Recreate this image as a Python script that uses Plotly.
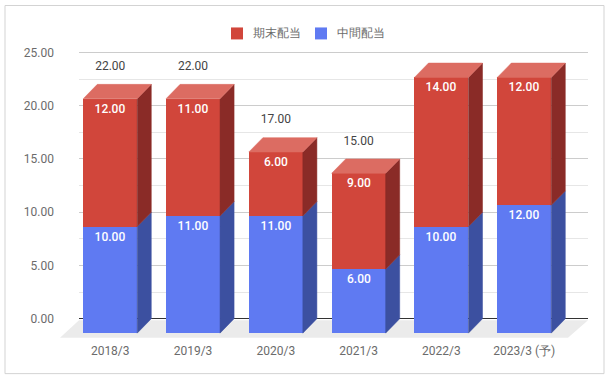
import plotly.graph_objects as go

# ---- data ----
categories = ["2018/3", "2019/3", "2020/3", "2021/3", "2022/3", "2023/3 (予)"]
interim = [10, 11, 11, 6, 10, 12]      # 中間配当
final = [12, 11, 6, 9, 14, 12]         # 期末配当
totals = [a + b for a, b in zip(interim, final)]
series_names = ["期末配当", "中間配当"]

# ---- styling constants ----
W, H = 612, 380
ML, MR = 79, 24
Y0, Y1 = -1.9, 25.6
PX_PER_UNIT = 10.68
ZERO_PX = 319
MT = ZERO_PX - Y1 * PX_PER_UNIT
MB = H - (ZERO_PX - Y0 * PX_PER_UNIT)
PLOT_W = W - ML - MR
PLOT_H = H - MT - MB
X0, X1 = -0.377, 5.770

DEPTH_Y = 1.35    # vertical depth offset in value units
DEPTH_X = 0.17    # horizontal depth offset in category units
BAR_W = 0.652
LABEL_OFF = 1.62

RED, RED_TOP, RED_SIDE = "#d1463b", "#dc6c62", "#8a2b27"
BLUE, BLUE_SIDE = "#5f7af2", "#3c50a0"
FONT = "Roboto, Arial, sans-serif"
TXT = "#6b6b6b"


def px2paper_x(px):
    return (px - ML) / PLOT_W


def px2paper_y(py):
    return (H - MB - py) / PLOT_H


idx = list(range(len(categories)))
fig = go.Figure()

# front faces (bars)
fig.add_trace(go.Bar(
    x=idx, y=interim, base=[-DEPTH_Y] * len(idx), width=BAR_W,
    name=series_names[1], marker=dict(color=BLUE, line=dict(width=0)),
    text=[f"{v:.2f}" for v in interim], textposition="inside",
    insidetextanchor="end",
    insidetextfont=dict(color="white", size=12, family=FONT, weight=500),
    hoverinfo="skip", showlegend=False,
))
fig.add_trace(go.Bar(
    x=idx, y=final, base=[b - DEPTH_Y for b in interim], width=BAR_W,
    name=series_names[0], marker=dict(color=RED, line=dict(width=0)),
    text=[f"{v:.2f}" for v in final], textposition="inside",
    insidetextanchor="end",
    insidetextfont=dict(color="white", size=12, family=FONT, weight=500),
    hoverinfo="skip", showlegend=False,
))

# side and top faces
bx, by, rx, ry, tx, ty = [], [], [], [], [], []
for i, b, t in zip(idx, interim, totals):
    xl, xr = i - BAR_W / 2, i + BAR_W / 2
    bx += [xr, xr + DEPTH_X, xr + DEPTH_X, xr, xr, None]
    by += [-DEPTH_Y, 0, b, b - DEPTH_Y, -DEPTH_Y, None]
    rx += [xr, xr + DEPTH_X, xr + DEPTH_X, xr, xr, None]
    ry += [b - DEPTH_Y, b, t, t - DEPTH_Y, b - DEPTH_Y, None]
    tx += [xl, xr, xr + DEPTH_X, xl + DEPTH_X, xl, None]
    ty += [t - DEPTH_Y, t - DEPTH_Y, t, t, t - DEPTH_Y, None]

for xs, ys, col in [(bx, by, BLUE_SIDE), (rx, ry, RED_SIDE), (tx, ty, RED_TOP)]:
    fig.add_trace(go.Scatter(
        x=xs, y=ys, mode="lines", fill="toself", fillcolor=col,
        line=dict(width=0.5, color=col), showlegend=False, hoverinfo="skip",
    ))

# total labels
fig.add_trace(go.Scatter(
    x=idx, y=[t + LABEL_OFF for t in totals], mode="text",
    text=[f"{t:.2f}" for t in totals], textposition="middle center",
    textfont=dict(size=12, color="#444444", family=FONT),
    showlegend=False, hoverinfo="skip", cliponaxis=False,
))

# floor (decoration) and outer frame
floor_path = "M {},{} L {},{} L {},{} L {},{} Z".format(
    px2paper_x(79), px2paper_y(320.5),
    px2paper_x(588), px2paper_y(320.5),
    px2paper_x(568), px2paper_y(338),
    px2paper_x(60), px2paper_y(338),
)
fig.add_shape(type="path", path=floor_path, xref="paper", yref="paper",
              fillcolor="#ebebeb", line=dict(width=0), layer="below")
fig.add_shape(type="rect", xref="paper", yref="paper",
              x0=px2paper_x(5), x1=px2paper_x(604),
              y0=px2paper_y(374), y1=px2paper_y(5),
              line=dict(color="#d3d3d3", width=1), fillcolor="rgba(0,0,0,0)")

# manual legend
legend_items = [(series_names[0], RED, 231), (series_names[1], BLUE, 315)]
for name, col, sx in legend_items:
    fig.add_shape(type="rect", xref="paper", yref="paper",
                  x0=px2paper_x(sx), x1=px2paper_x(sx + 12),
                  y0=px2paper_y(39), y1=px2paper_y(27),
                  fillcolor=col, line=dict(width=0))
    fig.add_annotation(xref="paper", yref="paper", x=px2paper_x(sx + 20),
                       y=px2paper_y(33), text=name, showarrow=False,
                       xanchor="left", yanchor="middle",
                       font=dict(size=12, color=TXT, family=FONT))

fig.update_layout(
    width=W, height=H, autosize=False,
    margin=dict(l=ML, r=MR, t=MT, b=MB, pad=0),
    paper_bgcolor="white", plot_bgcolor="white",
    barmode="overlay", bargap=0,
    font=dict(family=FONT, size=12, color=TXT),
    showlegend=False,
    xaxis=dict(range=[X0, X1], tickmode="array", tickvals=idx,
               ticktext=categories, showgrid=False, zeroline=False,
               showline=False, ticks="", ticklabelstandoff=3,
               tickfont=dict(size=12, color=TXT)),
    yaxis=dict(range=[Y0, Y1], tick0=0, dtick=5, tickformat=".2f",
               showgrid=True, gridcolor="#cccccc", gridwidth=1,
               zeroline=True, zerolinecolor="#333333", zerolinewidth=1,
               showline=False, ticks="", ticklabelstandoff=24,
               tickfont=dict(size=12, color=TXT),
               minor=dict(dtick=2.5, tick0=0, showgrid=True,
                          gridcolor="#e6e6e6", gridwidth=1)),
)

fig.write_html("out.html", config={"displayModeBar": False},
               post_script="document.body.style.margin='0';document.body.style.overflow='hidden';")
